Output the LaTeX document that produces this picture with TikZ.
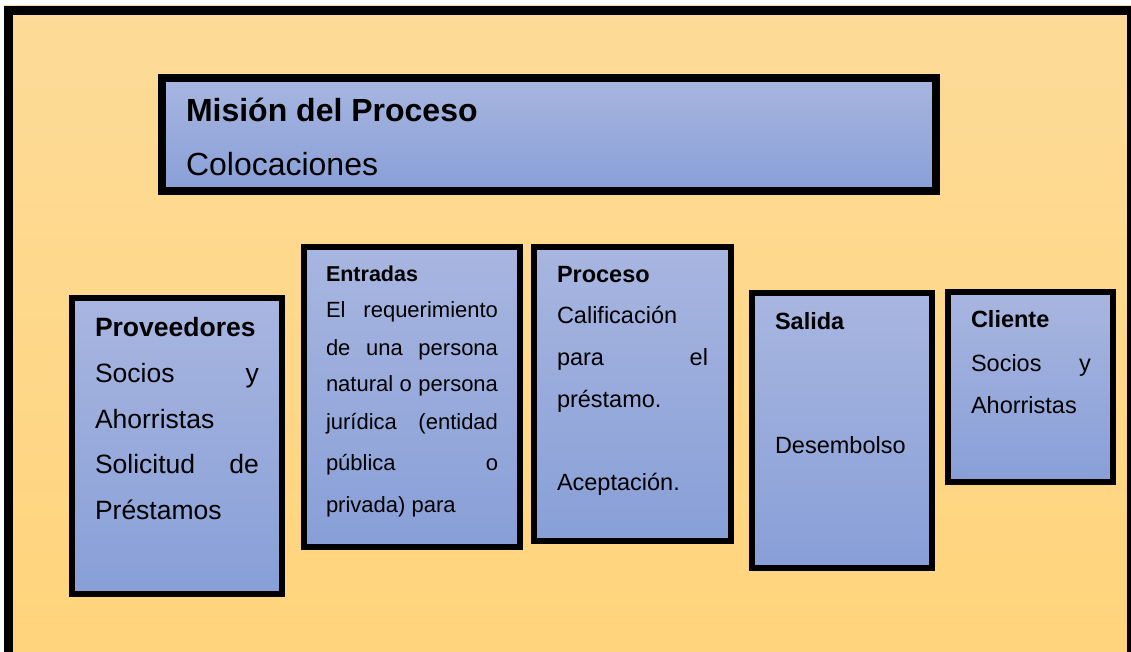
\documentclass[tikz,border=0pt]{standalone}
\usepackage{fontspec}
\setmainfont{Liberation Sans}
\definecolor{bgtop}{RGB}{253,219,152}
\definecolor{bgbot}{RGB}{255,212,124}
\definecolor{boxtop}{RGB}{168,182,224}
\definecolor{boxbot}{RGB}{136,159,215}
\newcommand\myfs[1]{\fontsize{#1}{#1}\selectfont}
\newcommand\jline[2]{\makebox[#1pt][s]{#2}}
\tikzset{
  box/.style={draw=black, top color=boxtop, bottom color=boxbot, anchor=north west,
    inner sep=0pt, outer sep=0pt, line width=6pt},
  txt/.style={anchor=base west, inner sep=0pt, outer sep=0pt, text=black},
}
\begin{document}
\begin{tikzpicture}[x=1pt,y=-1pt]
\useasboundingbox (0,0) rectangle (1131,652);
\clip (0,0) rectangle (1131,652);
\fill[white] (0,0) rectangle (1131,652);
\fill[top color=bgtop, bottom color=bgbot] (4,6) rectangle (1131,652);
\draw[line width=9pt] (8.5,10.5) rectangle (1131.5,700);
% boxes
\node[box, line width=8pt, minimum width=774pt, minimum height=113pt] (mision) at (162,78) {};
\node[box, minimum width=210pt, minimum height=296pt] (prov) at (72,298) {};
\node[box, minimum width=216pt, minimum height=300pt] (entr) at (304,247) {};
\node[box, minimum width=197pt, minimum height=294pt] (proc) at (534,247) {};
\node[box, minimum width=180pt, minimum height=275pt] (sal) at (752,293) {};
\node[box, minimum width=165pt, minimum height=190pt] (cli) at (948,292) {};
% mission text
\node[txt, font=\myfs{32}\bfseries] (m1) at (186,122) {Misión del Proceso};
\node[txt, font=\myfs{32}] (m2) at (186,176) {Colocaciones};
% proveedores
\node[txt, font=\myfs{26.5}\bfseries] (p0) at (95,336) {Proveedores};
\node[txt, font=\myfs{26.5}] (p1) at (95,382) {\jline{164}{Socios y}};
\node[txt, font=\myfs{26.5}] (p2) at (95,428) {Ahorristas};
\node[txt, font=\myfs{26.5}] (p3) at (95,473) {\jline{164}{Solicitud de}};
\node[txt, font=\myfs{26.5}] (p4) at (95,519) {Préstamos};
% entradas
\node[txt, font=\myfs{21.5}\bfseries] (e0) at (326,281) {Entradas};
\node[txt, font=\myfs{22}] (e1) at (326,317) {\jline{172}{El requerimiento}};
\node[txt, font=\myfs{22}] (e2) at (326,355) {\jline{172}{de una persona}};
\node[txt, font=\myfs{22}] (e3) at (326,391) {\jline{172}{natural o persona}};
\node[txt, font=\myfs{22}] (e4) at (326,429) {\jline{172}{jurídica (entidad}};
\node[txt, font=\myfs{22}] (e5) at (326,470.5) {\jline{172}{pública o}};
\node[txt, font=\myfs{22}] (e6) at (326,512) {privada) para};
% proceso
\node[txt, font=\myfs{23.5}\bfseries] (r0) at (557,282) {Proceso};
\node[txt, font=\myfs{23.5}] (r1) at (557,323) {Calificación};
\node[txt, font=\myfs{23.5}] (r2) at (557,365) {\jline{151}{para el}};
\node[txt, font=\myfs{23.5}] (r3) at (557,407) {préstamo.};
\node[txt, font=\myfs{23.5}] (r4) at (557,490) {Aceptación.};
% salida
\node[txt, font=\myfs{23.5}\bfseries] (s0) at (775,329) {Salida};
\node[txt, font=\myfs{23.5}] (s1) at (775,453) {Desembolso};
% cliente
\node[txt, font=\myfs{23.5}\bfseries] (c0) at (971,327) {Cliente};
\node[txt, font=\myfs{23.5}] (c1) at (971,371) {\jline{120}{Socios y}};
\node[txt, font=\myfs{23.5}] (c2) at (971,413) {Ahorristas};
\end{tikzpicture}
\end{document}
